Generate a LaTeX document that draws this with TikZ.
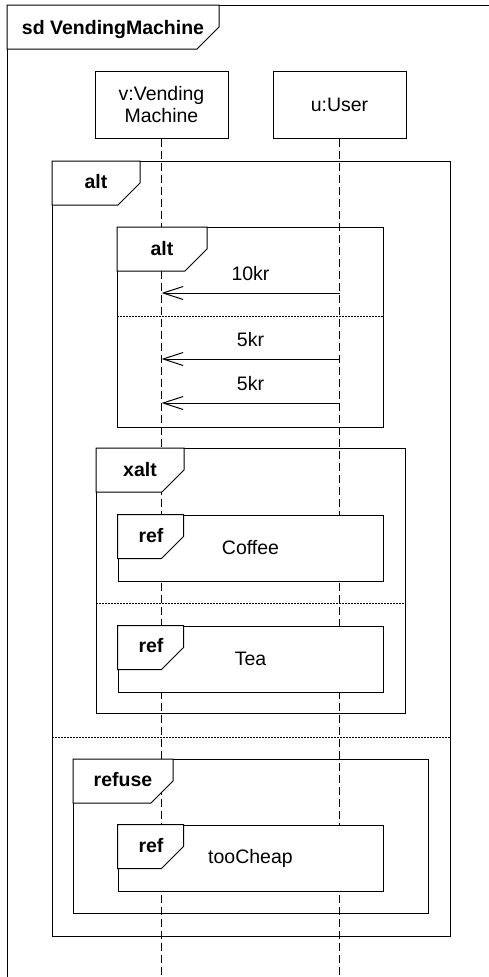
\documentclass[tikz,border=0pt]{standalone}
\usepackage{fontspec}
\setmainfont{Liberation Sans}
\usetikzlibrary{arrows.meta,calc}

\tikzset{
  lifeline/.style={line width=0.8pt, dash pattern=on 8pt off 4pt},
  msg/.style={-{Straight Barb[length=20pt,width=13pt]}},
  msglabel/.style={midway, above=12pt, inner sep=0pt},
  sep/.style={line width=0.8pt, dash pattern=on 2pt off 1pt},
  tagbox/.style={fill=white},
  tagtext/.style={anchor=base, font=\fontsize{19.5}{22}\selectfont\bfseries},
  headbox/.style={draw, minimum width=133pt, minimum height=67pt, align=center},
  refbox/.style={draw, fill=white, minimum width=265pt, minimum height=66pt, inner sep=0pt},
}

\begin{document}
\begin{tikzpicture}[x=1pt, y=-1pt, line width=1pt, every node/.append style={font=\fontsize{19.5}{22}\selectfont}]
    \useasboundingbox (0,0) rectangle (489,977);
    \coordinate (bottom) at (0,977);
    % sd frame
    \draw (489,5) -- (7,5) -- (7,977);
    \draw[tagbox] (7,5) -- (219,5) -- (219,27) -- (197,49) -- (7,49) -- cycle;
    \node[tagtext] (sd) at (113,34) {sd VendingMachine};
    % lifelines
    \node[headbox] (v) at (161.5,104.5) {v:Vending\\Machine};
    \node[headbox] (u) at (339.5,105) {u:User};
    \draw[lifeline] (v) -- (v |- bottom);
    \draw[lifeline] (u) -- (u |- bottom);
    % outer alt
    \draw (52,161) rectangle (450,936);
    \draw[sep] (52,737) -- (450,737);
    \draw[tagbox] (52,161) -- (140,161) -- (140,183) -- (118,205) -- (52,205) -- cycle;
    \node[tagtext] (altouter) at (96,188) {alt};
    % inner alt
    \draw (117,227) rectangle (383,427);
    \draw[sep] (117,316) -- (383,316);
    \draw[tagbox] (117,227) -- (207,227) -- (207,249) -- (185,271) -- (117,271) -- cycle;
    \node[tagtext] (altinner) at (162,255) {alt};
    \coordinate (m1) at (0,293);
    \coordinate (m2) at (0,359);
    \coordinate (m3) at (0,403);
    \draw[msg] (u |- m1) -- node[msglabel] (pay10) {10kr} (v |- m1);
    \draw[msg] (u |- m2) -- node[msglabel] (pay5a) {5kr} (v |- m2);
    \draw[msg] (u |- m3) -- node[msglabel] (pay5b) {5kr} (v |- m3);
    % xalt
    \draw (96,448) rectangle (405,713);
    \draw[sep] (96,603) -- (405,603);
    \draw[tagbox] (96,448) -- (184,448) -- (184,470) -- (162,492) -- (96,492) -- cycle;
    \node[tagtext] (xalt) at (140,476) {xalt};
    \node[refbox] (coffee) at (250.5,548) {Coffee};
    \draw[tagbox] (coffee.north west) -- ++(66,0) -- ++(0,22) -- ++(-22,22) -- ++(-44,0) -- cycle;
    \node[tagtext] (refcoffee) at (151,542) {ref};
    \node[refbox] (tea) at (250.5,659) {Tea};
    \draw[tagbox] (tea.north west) -- ++(66,0) -- ++(0,22) -- ++(-22,22) -- ++(-44,0) -- cycle;
    \node[tagtext] (reftea) at (151,652) {ref};
    % refuse
    \draw (73,759) rectangle (428,913);
    \draw[tagbox] (73,759) -- (173,759) -- (173,781) -- (151,803) -- (73,803) -- cycle;
    \node[tagtext] (refuse) at (123,786) {refuse};
    \node[refbox] (cheap) at (250.5,858) {tooCheap};
    \draw[tagbox] (cheap.north west) -- ++(66,0) -- ++(0,22) -- ++(-22,22) -- ++(-44,0) -- cycle;
    \node[tagtext] (refcheap) at (151,852) {ref};
\end{tikzpicture}
\end{document}
